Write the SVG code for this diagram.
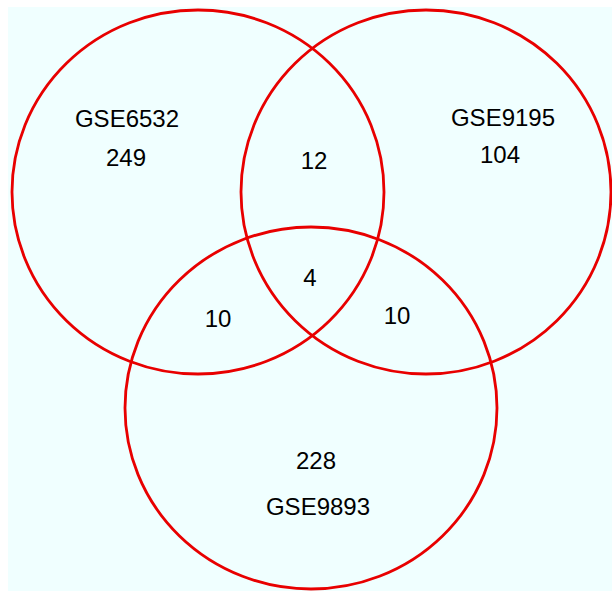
<svg xmlns="http://www.w3.org/2000/svg" width="612" height="591" viewBox="0 0 612 591">
<style>
.set{fill:none;stroke:#e80000;stroke-width:2.8}
.t{font-family:"Liberation Sans",Arial,sans-serif;font-size:24px;fill:#000;text-anchor:middle}
</style>
<rect x="0" y="0" width="612" height="591" fill="#ffffff"/>
<rect x="8" y="7" width="604" height="584" fill="#f0ffff"/>
<g id="connectors"></g>
<g id="setA"><ellipse class="set" cx="198" cy="192" rx="186" ry="182"/></g>
<g id="setB"><ellipse class="set" cx="426" cy="192" rx="185" ry="182"/></g>
<g id="setC"><ellipse class="set" cx="311" cy="408" rx="186" ry="181"/></g>
<g id="labelA"><text class="t" x="127" y="127">GSE6532</text><text class="t" x="126" y="166">249</text></g>
<g id="labelB"><text class="t" x="503" y="126">GSE9195</text><text class="t" x="500" y="163">104</text></g>
<g id="labelC"><text class="t" x="316" y="469">228</text><text class="t" x="318" y="515">GSE9893</text></g>
<g id="AB"><text class="t" x="314" y="169">12</text></g>
<g id="ABC"><text class="t" x="310" y="286">4</text></g>
<g id="AC"><text class="t" x="218" y="327">10</text></g>
<g id="BC"><text class="t" x="397" y="324">10</text></g>
</svg>
